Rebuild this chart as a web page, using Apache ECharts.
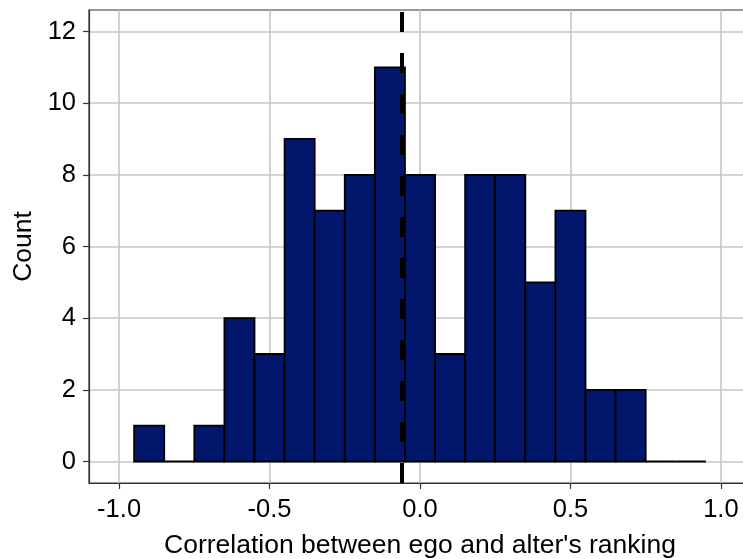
<!DOCTYPE html>
<html>
<head>
<meta charset="utf-8">
<script src="https://cdn.jsdelivr.net/npm/echarts@6/dist/echarts.min.js"></script>
<style>
  html, body { margin: 0; padding: 0; background: #ffffff; }
  #chart { width: 743px; height: 559px; }
</style>
</head>
<body>
<div id="chart"></div>
<script>
// histogram bins (lower / upper edges) and counts
const binLower = [-0.95, -0.85, -0.75, -0.65, -0.55, -0.45, -0.35, -0.25, -0.15, -0.05, 0.05, 0.15, 0.25, 0.35, 0.45, 0.55, 0.65, 0.75, 0.85]
const binUpper = [-0.85, -0.75, -0.65, -0.55, -0.45, -0.35, -0.25, -0.15, -0.05, 0.05, 0.15, 0.25, 0.35, 0.45, 0.55, 0.65, 0.75, 0.85, 0.95]
const counts = [1, 0, 1, 4, 3, 9, 7, 8, 11, 8, 3, 8, 8, 5, 7, 2, 2, 0, 0]
// mean correlation (dashed line)
const meanValue = -0.057
// tick labels
const xTicks = [-1.0, -0.5, 0.0, 0.5, 1.0]
const yTicks = [0, 2, 4, 6, 8, 10, 12]

const barColor = '#02166b'
const font = 'Liberation Sans, Arial, sans-serif'

const histData = binLower.map((lo, i) => [lo, binUpper[i], counts[i]])

const myChart = echarts.init(document.getElementById('chart'))

const option = {
  animation: false,
  backgroundColor: '#ffffff',
  grid: {
    left: 89,
    top: 10,
    right: -8,
    bottom: 76,
    outerBoundsMode: 'none',
    containLabel: false,
    show: true,
    borderColor: '#333333',
    borderWidth: 1.2,
    backgroundColor: 'transparent'
  },
  xAxis: {
    type: 'value',
    min: -1.1,
    max: 1.1,
    name: "Correlation between ego and alter's ranking",
    nameLocation: 'middle',
    nameGap: 49,
    nameTextStyle: { fontFamily: font, fontSize: 26.5, color: '#000' },
    axisLine: { show: true, onZero: false, lineStyle: { color: '#333333', width: 1.2 } },
    axisTick: { show: true, length: 6, customValues: xTicks, lineStyle: { color: '#333333', width: 1.2 } },
    axisLabel: {
      customValues: xTicks,
      margin: 14,
      fontFamily: font,
      fontSize: 25.5,
      color: '#000',
      formatter: v => v.toFixed(1)
    },
    splitLine: { show: true, lineStyle: { color: '#c6c6c6', width: 1.6 } }
  },
  yAxis: {
    type: 'value',
    min: -0.6,
    max: 12.6,
    name: 'Count',
    nameLocation: 'middle',
    nameGap: 52,
    nameTextStyle: { fontFamily: font, fontSize: 26.5, color: '#000' },
    axisLine: { show: true, onZero: false, lineStyle: { color: '#333333', width: 1.2 } },
    axisTick: { show: true, length: 6, customValues: yTicks, lineStyle: { color: '#333333', width: 1.2 } },
    axisLabel: {
      customValues: yTicks,
      margin: 13,
      fontFamily: font,
      fontSize: 25.5,
      color: '#000'
    },
    splitLine: { show: true, lineStyle: { color: '#c6c6c6', width: 1.6 } }
  },
  series: [
    {
      type: 'custom',
      data: histData,
      encode: { x: [0, 1], y: 2 },
      renderItem: (params, api) => {
        const p0 = api.coord([api.value(0), 0])
        const p1 = api.coord([api.value(1), api.value(2)])
        return {
          type: 'rect',
          shape: { x: p0[0], y: p1[1], width: p1[0] - p0[0], height: p0[1] - p1[1] },
          style: { fill: barColor, stroke: '#000000', lineWidth: 1.8 }
        }
      },
      markLine: {
        silent: true,
        symbol: ['none', 'none'],
        label: { show: false },
        lineStyle: { color: '#000000', width: 4, type: [20, 21], dashOffset: 0 },
        data: [{ xAxis: meanValue }]
      }
    }
  ]
}

myChart.setOption(option, true)
</script>
</body>
</html>
